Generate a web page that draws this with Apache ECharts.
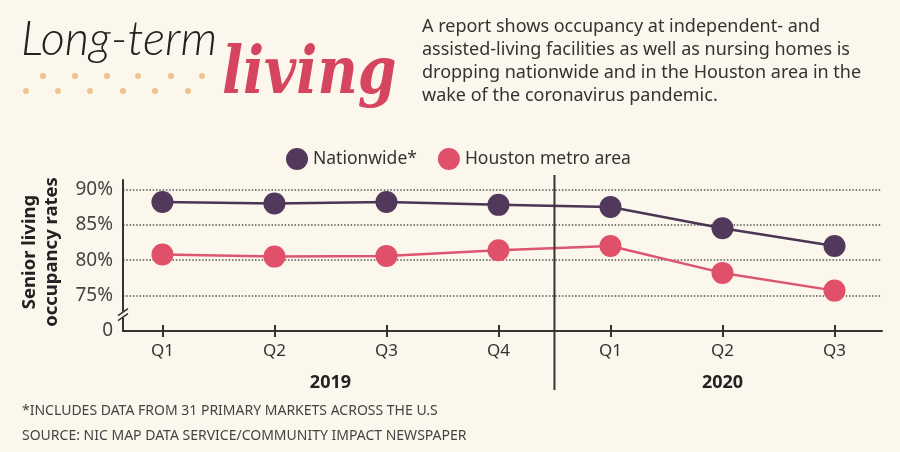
<!DOCTYPE html>
<html>
<head>
<meta charset="utf-8">
<script src="https://cdn.jsdelivr.net/npm/echarts@6/dist/echarts.min.js"></script>
<style>
  html, body { margin: 0; padding: 0; background: #fbf7ec; }
  #main { width: 900px; height: 452px; }
</style>
</head>
<body>
<div id="main"></div>
<script>
// ---- data ----
const categories = ['Q1', 'Q2', 'Q3', 'Q4', 'Q1', 'Q2', 'Q3'];
const years = ['2019', '2020'];
const quartersPerYear = [4, 3];
const nationwide = [88.2, 88.0, 88.2, 87.8, 87.5, 84.5, 82.0];
const houston = [80.8, 80.5, 80.6, 81.4, 82.0, 78.2, 75.7];
const yTickValues = [70, 75, 80, 85, 90];
const yTickLabels = ['0', '75%', '80%', '85%', '90%'];
const seriesNames = ['Nationwide*', 'Houston metro area'];
const titleText = ['Long-term', 'living'];
const descriptionLines = [
  'A report shows occupancy at independent- and',
  'assisted-living facilities as well as nursing homes is',
  'dropping nationwide and in the Houston area in the',
  'wake of the coronavirus pandemic.'
];
const yAxisTitle = 'Senior living\noccupancy rates';
const footnotes = [
  '*INCLUDES DATA FROM 31 PRIMARY MARKETS ACROSS THE U.S',
  'SOURCE: NIC MAP DATA SERVICE/COMMUNITY IMPACT NEWSPAPER'
];

const FONT = '"Noto Sans", "Open Sans", sans-serif';
const DARK = '#333333';
const PURPLE = '#52385a';
const PINK = '#e0506a';
const BG = '#fbf7ec';

const idx = categories.map((_, i) => i);
const toPairs = arr => arr.map((v, i) => [i, v]);

const chart = echarts.init(document.getElementById('main'), null, { renderer: 'canvas' });

const option = {
  backgroundColor: BG,
  animation: false,
  textStyle: { fontFamily: FONT },
  legend: {
    data: seriesNames,
    left: 281,
    top: 143,
    icon: 'circle',
    itemWidth: 22,
    itemHeight: 22,
    itemGap: 21,
    textStyle: { fontSize: 17.5, color: DARK, fontFamily: FONT }
  },
  grid: { left: 123, right: 18, top: 180, bottom: 121, containLabel: false },
  xAxis: [
    {
      type: 'value',
      min: -0.352,
      max: 6.424,
      position: 'bottom',
      axisLine: { show: true, onZero: false, lineStyle: { color: DARK, width: 2 } },
      axisTick: { show: true, length: 6, inside: false, customValues: idx, lineStyle: { color: DARK, width: 2 } },
      axisLabel: {
        customValues: idx,
        margin: 12,
        fontSize: 17,
        color: DARK,
        fontFamily: FONT,
        formatter: v => categories[Math.round(v)]
      },
      splitLine: { show: false }
    },
    {
      type: 'value',
      min: -0.352,
      max: 6.424,
      position: 'bottom',
      axisLine: { show: false, onZero: false },
      axisTick: { show: true, length: 6, inside: true, customValues: idx, lineStyle: { color: DARK, width: 2 } },
      axisLabel: { show: false, customValues: idx },
      splitLine: { show: false }
    }
  ],
  yAxis: {
    type: 'value',
    min: 70,
    max: 91.31,
    interval: 5,
    axisLine: { show: true, onZero: false, lineStyle: { color: DARK, width: 2 } },
    axisTick: { show: false },
    axisLabel: {
      margin: 10,
      fontSize: 19,
      color: '#444',
      fontFamily: FONT,
      showMaxLabel: false,
      formatter: v => {
        const k = yTickValues.indexOf(v);
        return k >= 0 ? yTickLabels[k] : '';
      }
    },
    splitLine: {
      show: true,
      showMinLine: false,
      showMaxLine: false,
      lineStyle: { color: '#555', width: 1.5, type: [1.5, 1.8] }
    }
  },
  series: [
    {
      name: seriesNames[0],
      type: 'line',
      xAxisIndex: 0,
      data: toPairs(nationwide),
      symbol: 'circle',
      symbolSize: 22,
      itemStyle: { color: PURPLE },
      lineStyle: { color: '#4b3552', width: 2.5 },
      z: 3
    },
    {
      name: seriesNames[1],
      type: 'line',
      xAxisIndex: 0,
      data: toPairs(houston),
      symbol: 'circle',
      symbolSize: 22,
      itemStyle: { color: PINK },
      lineStyle: { color: '#dc5670', width: 2.5 },
      z: 3
    }
  ]
};

chart.setOption(option);

// ---- decorations positioned from the chart's own scales ----
const px = (x, y) => chart.convertToPixel({ gridIndex: 0 }, [x, y]);
const g = [];

// title
g.push({ type: 'text', x: 21, y: 40, style: { text: titleText[0], font: 'italic 300 47px Lato, "Open Sans", sans-serif', fill: '#222', textVerticalAlign: 'middle' } });
g.push({ type: 'text', x: 222, y: 76, scaleX: 0.84, style: { text: titleText[1], font: 'italic bold 66px "DejaVu Serif", "Liberation Serif", serif', fill: '#d6455f', textVerticalAlign: 'middle' } });

// dotted decoration
const row1 = [43, 75, 107, 138, 171, 202];
const row2 = [26, 58, 90, 123, 155, 188];
row1.forEach(x => g.push({ type: 'circle', shape: { cx: x, cy: 76, r: 3 }, style: { fill: '#edc58c' } }));
row2.forEach(x => g.push({ type: 'circle', shape: { cx: x, cy: 91, r: 3 }, style: { fill: '#edc58c' } }));

// description
descriptionLines.forEach((t, i) => g.push({
  type: 'text', x: 422, y: 27 + i * 23,
  style: { text: t, font: '18px ' + FONT, fill: DARK, textVerticalAlign: 'middle' }
}));

// y axis title
g.push({
  type: 'text', x: 41, y: 252, rotation: Math.PI / 2,
  style: { text: yAxisTitle, font: 'bold 18.5px ' + FONT, fill: '#222', align: 'center', verticalAlign: 'middle', textAlign: 'center', textVerticalAlign: 'middle', lineHeight: 22 }
});

// year labels & divider
let start = 0;
const bottomPx = px(0, 70)[1];
quartersPerYear.forEach((n, k) => {
  const center = start + (n - 1) / 2;
  const p = px(center, 70);
  g.push({ type: 'text', x: p[0], y: bottomPx + 52, style: { text: years[k], font: 'bold 18px ' + FONT, fill: '#222', textAlign: 'center', textVerticalAlign: 'middle' } });
  if (k < quartersPerYear.length - 1) {
    const d = px(start + n - 0.5, 70);
    g.push({ type: 'line', shape: { x1: d[0], y1: 175, x2: d[0], y2: bottomPx + 59 }, style: { stroke: DARK, lineWidth: 2 }, z: 10 });
  }
  start += n;
});

// axis break on y axis
const axX = px(-0.352, 70)[0];
const brk = px(-0.352, 72.3)[1];
g.push({ type: 'rect', shape: { x: axX - 3, y: brk - 3, width: 6, height: 6 }, style: { fill: BG }, z: 20 });
g.push({ type: 'line', shape: { x1: axX - 5, y1: brk + 1, x2: axX + 5, y2: brk - 6 }, style: { stroke: DARK, lineWidth: 1.5 }, z: 21 });
g.push({ type: 'line', shape: { x1: axX - 5, y1: brk + 6, x2: axX + 5, y2: brk - 1 }, style: { stroke: DARK, lineWidth: 1.5 }, z: 21 });

// footnotes
footnotes.forEach((t, i) => g.push({
  type: 'text', x: 22, y: 411 + i * 25,
  style: { text: t, font: '14px ' + FONT, fill: '#444', textVerticalAlign: 'middle' }
}));

chart.setOption({ graphic: g });
</script>
</body>
</html>
